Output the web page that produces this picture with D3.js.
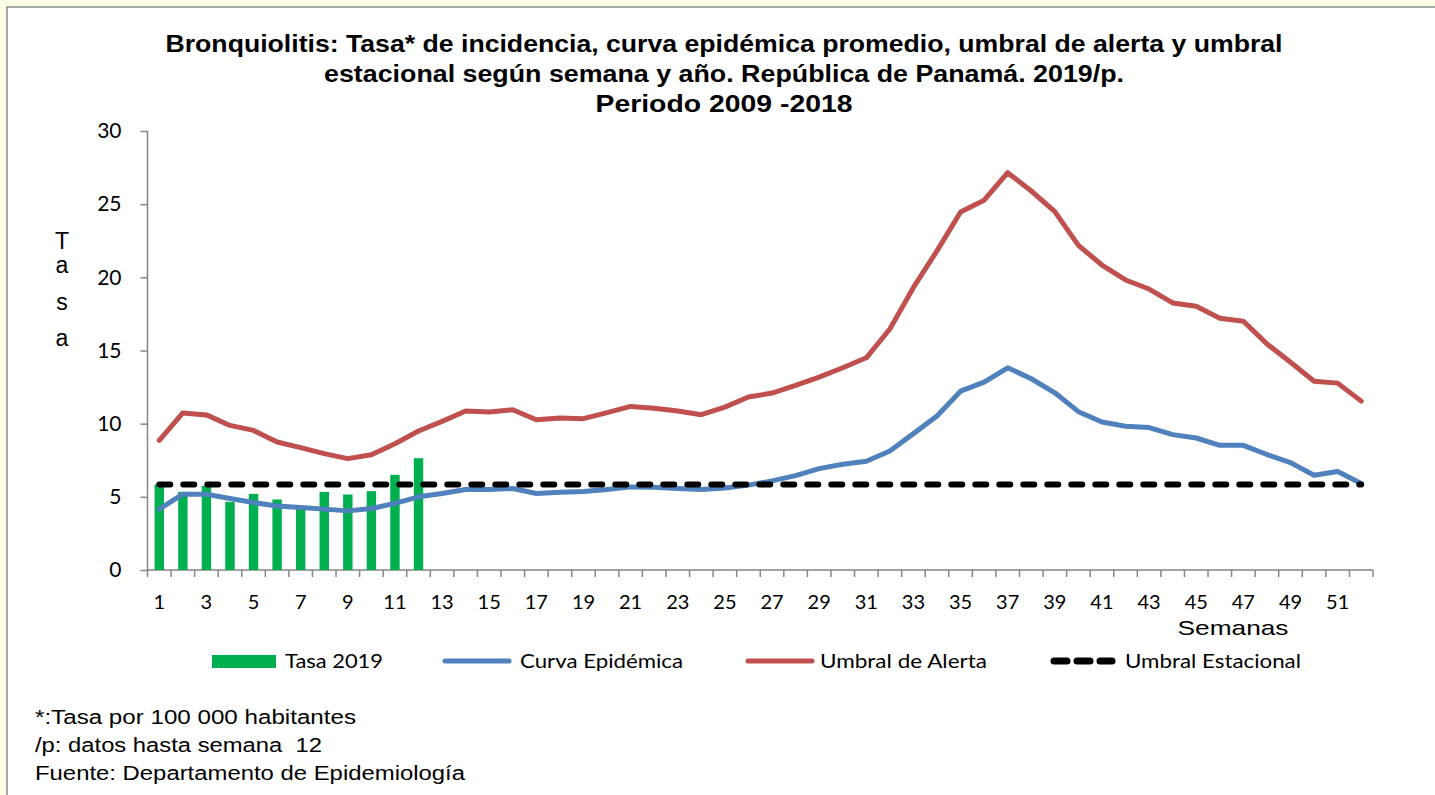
<!DOCTYPE html>
<html>
<head>
<meta charset="utf-8">
<script src="https://cdn.jsdelivr.net/npm/d3@7/dist/d3.min.js"></script>
<style>
  html, body { margin: 0; padding: 0; background: #fdfde6; }
  svg { display: block; }
</style>
</head>
<body>
<div id="chart"></div>
<script>
// Weekly values
const weeks = d3.range(1, 53)
const tasa2019 = [5.84, 5.34, 5.75, 4.66, 5.2, 4.82, 4.2, 5.34, 5.16, 5.39, 6.5, 7.64]
const curvaEpidemica = [
  4.16, 5.18, 5.18, 4.89, 4.61, 4.38, 4.27, 4.16, 4.04, 4.2,
  4.55, 5.0, 5.23, 5.5, 5.5, 5.57, 5.23, 5.32, 5.36, 5.5,
  5.68, 5.66, 5.57, 5.5, 5.61, 5.8, 6.09, 6.45, 6.93, 7.23,
  7.43, 8.13, 9.32, 10.52, 12.22, 12.84, 13.82, 13.07, 12.11, 10.82,
  10.11, 9.82, 9.73, 9.25, 9.02, 8.52, 8.52, 7.89, 7.34, 6.48,
  6.73, 5.91
]
const umbralAlerta = [
  8.86, 10.73, 10.6, 9.88, 9.54, 8.75, 8.36, 7.95, 7.61, 7.88,
  8.63, 9.5, 10.16, 10.86, 10.8, 10.95, 10.27, 10.38, 10.34, 10.75,
  11.18, 11.06, 10.86, 10.61, 11.13, 11.82, 12.09, 12.61, 13.18, 13.82,
  14.5, 16.47, 19.31, 21.81, 24.47, 25.27, 27.15, 25.9, 24.49, 22.18,
  20.84, 19.82, 19.2, 18.25, 18.02, 17.2, 17.0, 15.45, 14.2, 12.9,
  12.77, 11.54
]
const umbralEstacional = 5.85
const yTicks = [0, 5, 10, 15, 20, 25, 30]
const xTickLabels = weeks.filter(w => w % 2 === 1)
const titleLines = [
  "Bronquiolitis: Tasa* de incidencia, curva epidémica promedio, umbral de alerta y umbral",
  "estacional según semana y año. República de Panamá. 2019/p.",
  "Periodo 2009 -2018"
]
const notes = [
  "*:Tasa por 100 000 habitantes",
  "/p: datos hasta semana  12",
  "Fuente: Departamento de Epidemiología"
]
const legendItems = [
  { label: "Tasa 2019", kind: "bar" },
  { label: "Curva Epidémica", kind: "curva" },
  { label: "Umbral de Alerta", kind: "alerta" },
  { label: "Umbral Estacional", kind: "estacional" }
]

const COLORS = {
  bar: "#00b050",
  curva: "#4f81bd",
  alerta: "#c0504d",
  estacional: "#000000",
  axis: "#868686"
}
const SANS = "Arial, 'Liberation Sans', sans-serif"
const CAL = "Lato, 'Open Sans', sans-serif"

// the source picture is a bit stretched sideways, so long texts get a fixed width
const titleWidths = [1117, 800, 257]
const noteWidths = [321, 287, 430]
const legendSymbolX = [212, 442, 745, 1050]
const legendTextX = [285, 520, 820, 1125]
const legendTextW = [98, 163, 167, 176]

const W = 1435, H = 795
const svg = d3.select("#chart").append("svg")
  .attr("width", W).attr("height", H)

// white panel with the grey frame at top/left
svg.append("rect")
  .attr("x", 7).attr("y", 7).attr("width", W).attr("height", H)
  .attr("fill", "#ffffff")
  .attr("stroke", "#8c8c8c").attr("stroke-width", 1.5)

const x = d3.scaleBand().domain(weeks).range([147.5, 1373])
const xc = d => x(d) + x.bandwidth() / 2
const y = d3.scaleLinear().domain([0, 30]).range([570, 131])

// title
svg.append("g").selectAll("text")
  .data(titleLines)
  .join("text")
  .attr("x", 724)
  .attr("y", (d, i) => 52 + i * 30)
  .attr("text-anchor", "middle")
  .attr("font-family", SANS)
  .attr("font-weight", "bold")
  .attr("font-size", "23px")
  .attr("textLength", (d, i) => titleWidths[i])
  .attr("lengthAdjust", "spacingAndGlyphs")
  .attr("fill", "#000")
  .text(d => d)

// y axis
const yAxis = svg.append("g")
  .attr("transform", `translate(${x.range()[0]},0)`)
  .call(d3.axisLeft(y).tickValues(yTicks).tickSize(7).tickPadding(19))
yAxis.select(".domain").attr("stroke", COLORS.axis).attr("stroke-width", 1.5)
  .attr("d", `M0,${y(30)}V${y(0)}`)
yAxis.selectAll(".tick line").attr("stroke", COLORS.axis).attr("stroke-width", 1.5)
yAxis.selectAll(".tick text")
  .attr("font-family", CAL).attr("font-size", "21px").attr("fill", "#000")

// x axis: ticks on category boundaries, labels at odd weeks
const bounds = weeks.map(w => x(w)).concat([x.range()[1]])
const xAxisG = svg.append("g").attr("transform", `translate(0,${y(0)})`)
xAxisG.append("line")
  .attr("x1", x.range()[0]).attr("x2", x.range()[1])
  .attr("stroke", COLORS.axis).attr("stroke-width", 1.5)
xAxisG.selectAll("line.tk")
  .data(bounds)
  .join("line")
  .attr("class", "tk")
  .attr("x1", d => d).attr("x2", d => d)
  .attr("y1", 0).attr("y2", 7)
  .attr("stroke", COLORS.axis).attr("stroke-width", 1.5)
xAxisG.selectAll("text")
  .data(xTickLabels)
  .join("text")
  .attr("x", d => xc(d))
  .attr("y", 39)
  .attr("text-anchor", "middle")
  .attr("font-family", CAL)
  .attr("font-size", "20px")
  .attr("fill", "#000")
  .text(d => d)

// axis titles
svg.append("text")
  .attr("x", 1233).attr("y", 635)
  .attr("text-anchor", "middle")
  .attr("font-family", SANS).attr("font-size", "21px")
  .attr("textLength", 111).attr("lengthAdjust", "spacingAndGlyphs")
  .text("Semanas")

const tasaLetters = ["T", "a", "s", "a"]
const letterY = [249, 273, 310, 346]
svg.append("g").selectAll("text")
  .data(tasaLetters)
  .join("text")
  .attr("x", 62)
  .attr("y", (d, i) => letterY[i])
  .attr("text-anchor", "middle")
  .attr("font-family", SANS).attr("font-size", "23px")
  .text(d => d)

// bars
svg.append("g").selectAll("rect")
  .data(tasa2019)
  .join("rect")
  .attr("x", (d, i) => xc(weeks[i]) - x.bandwidth() * 0.2)
  .attr("width", x.bandwidth() * 0.4)
  .attr("y", d => y(d))
  .attr("height", d => y(0) - y(d))
  .attr("fill", COLORS.bar)

const line = d3.line()
  .x((d, i) => xc(weeks[i]))
  .y(d => y(d))

svg.append("path")
  .datum(umbralAlerta)
  .attr("d", line)
  .attr("fill", "none")
  .attr("stroke", COLORS.alerta)
  .attr("stroke-width", 5)
  .attr("stroke-linejoin", "round")
  .attr("stroke-linecap", "round")

svg.append("path")
  .datum(curvaEpidemica)
  .attr("d", line)
  .attr("fill", "none")
  .attr("stroke", COLORS.curva)
  .attr("stroke-width", 5)
  .attr("stroke-linejoin", "round")
  .attr("stroke-linecap", "round")

svg.append("line")
  .attr("x1", xc(weeks[0])).attr("x2", xc(weeks[weeks.length - 1]))
  .attr("y1", y(umbralEstacional)).attr("y2", y(umbralEstacional))
  .attr("stroke", COLORS.estacional)
  .attr("stroke-width", 6)
  .attr("stroke-dasharray", "11,13")
  .attr("stroke-linecap", "round")

// legend
const legendY = 661
const lg = svg.append("g").selectAll("g")
  .data(legendItems)
  .join("g")

lg.each(function (d, i) {
  const g = d3.select(this)
  const sx = legendSymbolX[i]
  if (d.kind === "bar") {
    g.append("rect").attr("x", sx).attr("y", legendY - 6).attr("width", 64).attr("height", 13)
      .attr("fill", COLORS.bar)
  } else if (d.kind === "estacional") {
    g.append("line").attr("x1", sx + 4).attr("x2", sx + 62)
      .attr("y1", legendY).attr("y2", legendY)
      .attr("stroke", "#000").attr("stroke-width", 7)
      .attr("stroke-dasharray", "13,10").attr("stroke-linecap", "round")
  } else {
    g.append("line").attr("x1", sx + 3).attr("x2", sx + 67)
      .attr("y1", legendY).attr("y2", legendY)
      .attr("stroke", COLORS[d.kind]).attr("stroke-width", 5)
      .attr("stroke-linecap", "round")
  }
  g.append("text")
    .attr("x", legendTextX[i])
    .attr("y", legendY + 7)
    .attr("font-family", CAL).attr("font-size", "20px")
    .attr("textLength", legendTextW[i]).attr("lengthAdjust", "spacingAndGlyphs")
    .text(d.label)
})

// foot notes (keep the double space before "12")
svg.append("g").selectAll("text")
  .data(notes)
  .join("text")
  .attr("x", 35)
  .attr("y", (d, i) => 724 + i * 28)
  .attr("font-family", SANS).attr("font-size", "20px")
  .attr("textLength", (d, i) => noteWidths[i])
  .attr("lengthAdjust", "spacingAndGlyphs")
  .style("white-space", "pre")
  .text(d => d)
</script>
</body>
</html>
